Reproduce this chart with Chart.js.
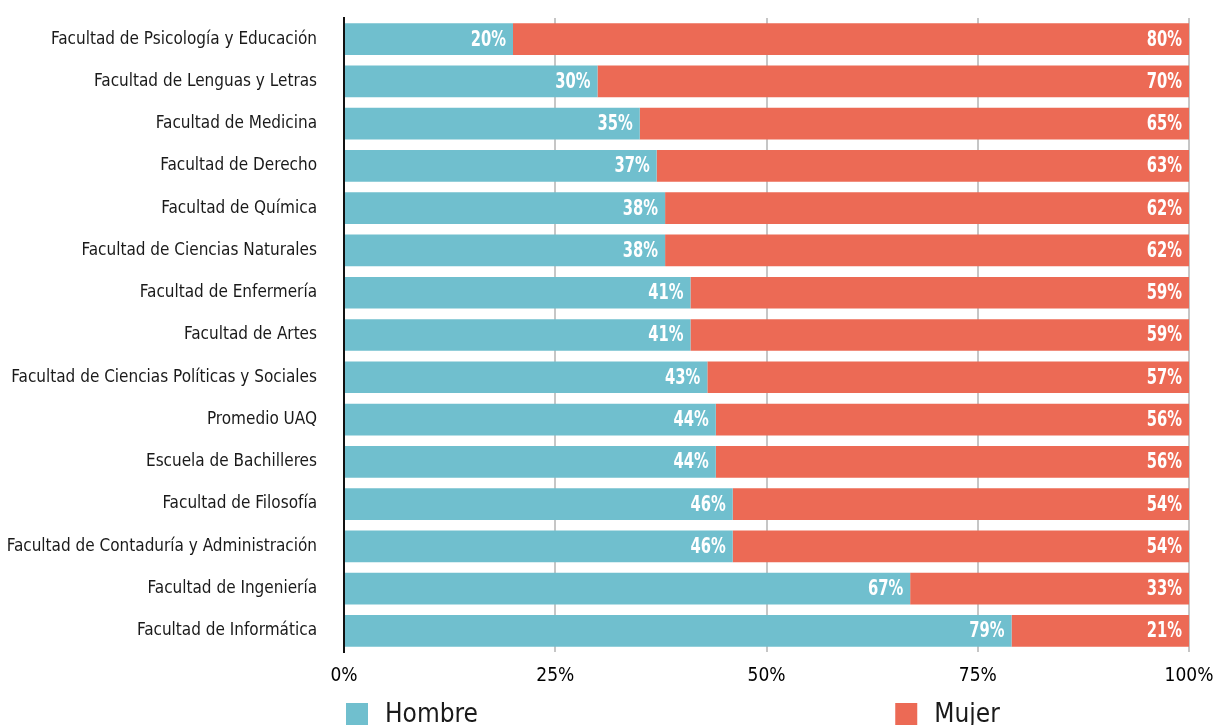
<!DOCTYPE html>
<html>
<head>
<meta charset="utf-8">
<script src="https://cdn.jsdelivr.net/npm/chart.js@4"></script>
<style>
  html, body { margin: 0; padding: 0; background: #fff; }
  #wrap { width: 1216px; height: 725px; position: relative; }
</style>
</head>
<body>
<div id="wrap"><canvas id="chart" width="1216" height="725"></canvas></div>
<script>
// Participación por sexo en cada facultad (porcentajes)
const categories = [
  'Facultad de Psicología y Educación',
  'Facultad de Lenguas y Letras',
  'Facultad de Medicina',
  'Facultad de Derecho',
  'Facultad de Química',
  'Facultad de Ciencias Naturales',
  'Facultad de Enfermería',
  'Facultad de Artes',
  'Facultad de Ciencias Políticas y Sociales',
  'Promedio UAQ',
  'Escuela de Bachilleres',
  'Facultad de Filosofía',
  'Facultad de Contaduría y Administración',
  'Facultad de Ingeniería',
  'Facultad de Informática',
];
const hombre = [20, 30, 35, 37, 38, 38, 41, 41, 43, 44, 44, 46, 46, 67, 79];
const mujer  = [80, 70, 65, 63, 62, 62, 59, 59, 57, 56, 56, 54, 54, 33, 21];
const xTicks = [0, 25, 50, 75, 100];

const narrow = "'DejaVu Sans Condensed', 'Liberation Sans Narrow', sans-serif";

const colors = {
  hombre: '#70bfce',
  mujer: '#ec6a55',
  grid: '#c6c6c6',
  axis: '#111111',
  text: '#1a1a1a',
};

// white value labels at the end of each segment (squeezed to look condensed)
const barLabels = {
  id: 'barLabels',
  afterDatasetsDraw(chart) {
    const ctx = chart.ctx;
    const squeeze = 0.78;
    ctx.save();
    ctx.fillStyle = '#ffffff';
    ctx.font = "bold 21px " + narrow;
    ctx.textAlign = 'right';
    ctx.textBaseline = 'middle';
    chart.data.datasets.forEach((ds, i) => {
      chart.getDatasetMeta(i).data.forEach((bar, j) => {
        ctx.save();
        ctx.translate(bar.x - 7, bar.y + 1);
        ctx.scale(squeeze, 1);
        ctx.fillText(ds.data[j] + '%', 0, 0);
        ctx.restore();
      });
    });
    ctx.restore();
  },
};

// legend spread along the bottom like the original
const spreadLegend = {
  id: 'spreadLegend',
  afterDraw(chart) {
    const ctx = chart.ctx;
    const x = chart.scales.x;
    const starts = [0, 65];
    ctx.save();
    ctx.font = "26px " + narrow;
    ctx.textBaseline = 'middle';
    chart.data.datasets.forEach((ds, i) => {
      const px = x.getPixelForValue(starts[i]) + 2;
      ctx.fillStyle = ds.backgroundColor;
      ctx.fillRect(px, 703, 22, 22);
      ctx.fillStyle = colors.text;
      ctx.fillText(ds.label, px + 39, 715);
    });
    ctx.restore();
  },
};

new Chart(document.getElementById('chart'), {
  type: 'bar',
  data: {
    labels: categories,
    datasets: [
      { label: 'Hombre', data: hombre, backgroundColor: colors.hombre },
      { label: 'Mujer', data: mujer, backgroundColor: colors.mujer },
    ],
  },
  options: {
    indexAxis: 'y',
    responsive: false,
    animation: false,
    barPercentage: 0.75,
    categoryPercentage: 1,
    layout: { padding: { top: 18, right: 27, bottom: 0, left: 0 } },
    plugins: {
      legend: { display: false },
      tooltip: { enabled: false },
    },
    scales: {
      x: {
        stacked: true,
        min: 0,
        max: 100,
        afterBuildTicks(scale) {
          scale.ticks = xTicks.map(v => ({ value: v }));
        },
        afterFit(scale) {
          scale.height = 73;
          scale.paddingLeft = 0;
          scale.paddingRight = 0;
        },
        grid: { color: colors.grid, lineWidth: 2, drawTicks: false },
        border: { display: false },
        ticks: {
          color: '#000',
          padding: 13,
          font: { family: narrow, size: 19 },
          callback: v => v + '%',
        },
      },
      y: {
        stacked: true,
        afterFit(scale) {
          scale.width = 344;
          scale.paddingTop = 0;
          scale.paddingBottom = 0;
        },
        grid: { display: false, drawTicks: false },
        border: { display: true, color: colors.axis, width: 2 },
        ticks: {
          color: colors.text,
          padding: 27,
          font: { family: narrow, size: 17 },
        },
      },
    },
  },
  plugins: [barLabels, spreadLegend],
});
</script>
</body>
</html>
